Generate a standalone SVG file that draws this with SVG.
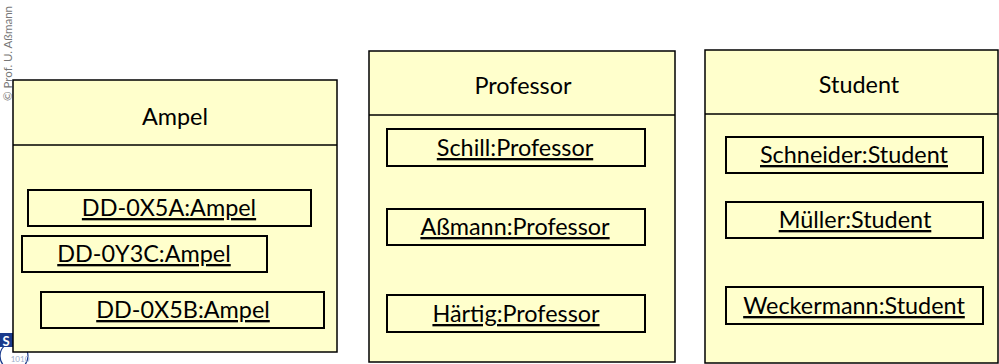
<svg xmlns="http://www.w3.org/2000/svg" width="999" height="364" viewBox="0 0 999 364">
<style>
.cls{fill:#ffffcc;stroke:#000;stroke-width:1.5}
.obj{fill:#ffffcc;stroke:#000;stroke-width:2}
.sep{stroke:#000;stroke-width:1.5}
text{font-family:Lato,"Open Sans","Liberation Sans",sans-serif;font-size:23.4px;fill:#000;text-anchor:middle}
.u{text-decoration:underline}
.copy{font-size:11.5px;fill:#777;text-anchor:start}
</style>
<rect width="999" height="364" fill="#fff"/>
<text class="copy" transform="translate(12,101) rotate(-90)">© Prof. U. Aßmann</text>
<g id="logo">
<circle cx="14" cy="356" r="14" fill="#fff" stroke="#1a3a8c" stroke-width="1.2"/>
<text x="20" y="362" style="font-size:8px;fill:#9aabc8">1010</text>
<rect x="0" y="333" width="14" height="14" fill="#1a3a8c"/>
<text x="6" y="346" style="font-size:13px;font-weight:bold;fill:#fff">S</text>
</g>
<g id="ampel">
<rect class="cls" x="13" y="80" width="324" height="272"/>
<line class="sep" x1="13" y1="145" x2="337" y2="145"/>
<text x="175" y="125">Ampel</text>
<g id="dd0x5a"><rect class="obj" x="28" y="190" width="283" height="36"/><text class="u" x="169" y="216">DD-0X5A:Ampel</text></g>
<g id="dd0y3c"><rect class="obj" x="22" y="236" width="245" height="36"/><text class="u" x="144" y="262">DD-0Y3C:Ampel</text></g>
<g id="dd0x5b"><rect class="obj" x="41" y="292" width="283" height="36"/><text class="u" x="183" y="318">DD-0X5B:Ampel</text></g>
</g>
<g id="professor">
<rect class="cls" x="369" y="51" width="306" height="311"/>
<line class="sep" x1="369" y1="115" x2="675" y2="115"/>
<text x="523" y="94">Professor</text>
<g id="schill"><rect class="obj" x="387" y="129" width="258" height="37"/><text class="u" x="515" y="156">Schill:Professor</text></g>
<g id="assmann"><rect class="obj" x="387" y="209" width="258" height="36"/><text class="u" x="515" y="235">Aßmann:Professor</text></g>
<g id="haertig"><rect class="obj" x="387" y="295" width="258" height="37"/><text class="u" x="516" y="322">Härtig:Professor</text></g>
</g>
<g id="student">
<rect class="cls" x="705" y="50" width="293" height="313"/>
<line class="sep" x1="705" y1="114" x2="998" y2="114"/>
<text x="859" y="93">Student</text>
<g id="schneider"><rect class="obj" x="726" y="137" width="257" height="36"/><text class="u" x="854" y="163"> Schneider:Student</text></g>
<g id="mueller"><rect class="obj" x="726" y="202" width="257" height="36"/><text class="u" x="855" y="228">Müller:Student</text></g>
<g id="weckermann"><rect class="obj" x="726" y="287" width="257" height="37"/><text class="u" x="854" y="314">Weckermann:Student</text></g>
</g>
</svg>
